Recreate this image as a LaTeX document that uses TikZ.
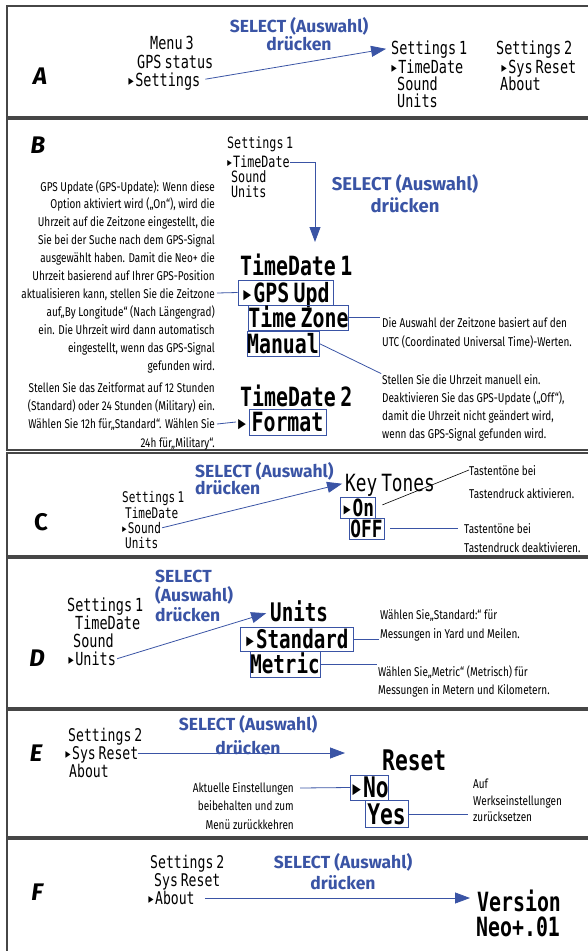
\documentclass[tikz,border=0pt]{standalone}
\usepackage{fontspec}
\usetikzlibrary{arrows.meta, positioning}

\newfontfamily\lcdfont{DejaVu Sans Mono}[FakeStretch=0.75]
\newfontfamily\notefont{Fira Sans}[FakeStretch=0.78]
\newfontfamily\selfont{Fira Sans}

\definecolor{selblue}{RGB}{58,84,165}
\definecolor{framegray}{RGB}{70,70,70}

\tikzset{
  panel/.style={draw=framegray, line width=1.3pt},
  tag/.style={font=\selfont\bfseries\itshape\fontsize{24}{24}\selectfont, inner sep=0pt},
  lcd/.style={font=\lcdfont\fontsize{#1}{#1}\selectfont, inner sep=0pt,
    text height={0.73*#1pt}, text depth=0pt, anchor=west},
  lcd/.default=18,
  lcdbig/.style={lcd=#1, font=\lcdfont\bfseries\fontsize{#1}{#1}\selectfont},
  lcdbig/.default=26.5,
  lcdbox/.style={draw=selblue, line width=0.7pt, anchor=center},
  sel/.style={font=\selfont\bfseries\fontsize{17.5}{#1}\selectfont, text=selblue,
    align=center, inner sep=0pt},
  sel/.default=20,
  note/.style={font=\notefont\fontsize{12.8}{#1}\selectfont, inner sep=0pt},
  note/.default=18,
  selline/.style={draw=selblue, line width=0.8pt},
  selarrow/.style={selline, -{Triangle[length=15pt, width=11pt]}},
}

\begin{document}
\begin{tikzpicture}[x=1pt, y=-1pt]
  \useasboundingbox (0,0) rectangle (587,951);

  % frames
  \draw[panel] (7,6) rectangle (592,117);
  \draw[panel] (7,119) rectangle (592,450);
  \draw[panel] (7,453) rectangle (592,556);
  \draw[panel] (7,558) rectangle (592,708);
  \draw[panel] (7,710) rectangle (592,837);
  \draw[panel] (7,839) rectangle (592,960);

  % A
  \node[tag] (a-tag) at (40,76) {A};
  \node[lcd=18] (a-m3) at (150,43) {Menu\,3};
  \node[lcd=18] (a-gps) at (137,62) {GPS\,status};
  \node[lcd=18] (a-set) at (127,80) {▸Settings};
  \node[sel=18] (a-sel) at (299,34) {SELECT (Auswahl)\\drücken};
  \node[lcd=18] (a-s1) at (391,48) {Settings\,1};
  \node[lcd=18] (a-td) at (390,67) {▸TimeDate};
  \node[lcd=18] (a-snd) at (397,84) {Sound};
  \node[lcd=18] (a-unt) at (397,101) {Units};
  \node[lcd=18] (a-s2) at (496,48) {Settings\,2};
  \node[lcd=18] (a-sys) at (500,67) {▸Sys\,Reset};
  \node[lcd=18] (a-abt) at (500,84) {About};
  \draw[selarrow, shorten <=5pt, shorten >=5pt] (a-set.east) -- (a-s1.west);

  % B
  \node[tag] (b-tag) at (38,145) {B};
  \node[lcd=15.6] (b-s1) at (227,143) {Settings\,1};
  \node[lcd=15.6] (b-td) at (226,162) {▸TimeDate};
  \node[lcd=15.6] (b-snd) at (231,177) {Sound};
  \node[lcd=15.6] (b-unt) at (231,192) {Units};
  \node[sel=22, font=\selfont\bfseries\fontsize{18.5}{22}\selectfont] (b-sel) at (405,194) {SELECT (Auswahl)\\drücken};
  \coordinate (b-tip) at (315,242);
  \draw[selarrow] (b-td.east) -| (b-tip);

  \node[lcdbig] (b-td1) at (240,266) {TimeDate\,1};
  \node[lcdbig, lcdbox, minimum width=95pt, minimum height=25pt] (b-upd) at (285.5,292.5) {▸GPS\,Upd};
  \node[lcdbig, lcdbox, minimum width=99pt, minimum height=25pt] (b-tz) at (298.5,317.5) {Time\,Zone};
  \node[lcdbig, lcdbox, minimum width=68pt, minimum height=25pt] (b-man) at (283,343.5) {Manual};
  \node[lcdbig] (b-td2) at (240,397) {TimeDate\,2};
  \node[lcdbig] (b-fmk) at (236,422) {▸};
  \node[lcdbig, lcdbox, minimum width=77pt, minimum height=26pt] (b-fmt) at (287.5,422) {Format};

  \node[note=17.9, align=right, anchor=north east] (b-gpsnote) at (215,180)
    {GPS Update (GPS-Update): Wenn diese\\
     Option aktiviert wird („On“), wird die\\
     Uhrzeit auf die Zeitzone eingestellt, die\\
     Sie bei der Suche nach dem GPS-Signal\\
     ausgewählt haben. Damit die Neo+ die\\
     Uhrzeit basierend auf Ihrer GPS-Position\\
     aktualisieren kann, stellen Sie die Zeitzone\\
     auf„By Longitude“ (Nach Längengrad)\\
     ein. Die Uhrzeit wird dann automatisch\\
     eingestellt, wenn das GPS-Signal\\
     gefunden wird.};
  \node[note=18.3, align=right, anchor=north east] (b-fmtnote) at (215,382)
    {Stellen Sie das Zeitformat auf 12 Stunden\\
     (Standard) oder 24 Stunden (Military) ein.\\
     Wählen Sie 12h für„Standard“. Wählen Sie\\
     24h für„Military“.};
  \node[note=19, align=left, anchor=north west] (b-tznote) at (382,317)
    {Die Auswahl der Zeitzone basiert auf den\\
     UTC (Coordinated Universal Time)-Werten.};
  \node[note=18, align=left, anchor=north west] (b-mannote) at (382,374)
    {Stellen Sie die Uhrzeit manuell ein.\\
     Deaktivieren Sie das GPS-Update („Off“),\\
     damit die Uhrzeit nicht geändert wird,\\
     wenn das GPS-Signal gefunden wird.};

  \coordinate (b-gpsend) at (217,293);
  \coordinate (b-fmtend) at (217,424);
  \draw[selline] (b-gpsend) -- (b-upd.west);
  \draw[selline] (b-fmtend) -- (b-fmk.west);
  \draw[selline, shorten >=2pt] (b-tz.east) -- (b-tz.east -| b-tznote.west);
  \draw[selline, shorten >=1pt] (b-man.east) -- (b-mannote.north west);

  % C
  \node[font=\selfont\bfseries\fontsize{24}{24}\selectfont, inner sep=0pt] (c-tag) at (41,522) {C};
  \node[sel=17, align=left, anchor=west] (c-sel) at (195,478.5) {SELECT (Auswahl)\\drücken};
  \node[lcd=14.7] (c-s1) at (122,497) {Settings\,1};
  \node[lcd=14.7] (c-td) at (125,513) {TimeDate};
  \node[lcd=14.7] (c-snd) at (121,528) {▸Sound};
  \node[lcd=14.7] (c-unt) at (125,543) {Units};
  \node[lcd=23.7] (c-kt) at (345,483) {Key\,Tones};
  \node[lcdbig=23.7, lcdbox, minimum width=35pt, minimum height=21pt] (c-on) at (358,507.5) {▸On};
  \node[lcdbig=23.7, lcdbox, minimum width=35pt, minimum height=21pt] (c-off) at (366.5,528.5) {OFF};
  \draw[selarrow, shorten <=1pt, shorten >=3pt] (c-snd.east) -- (c-kt.west);

  \node[note=23, align=left, anchor=north west] (c-onnote) at (469,465)
    {Tastentöne bei\\Tastendruck aktivieren.};
  \node[note=19, align=left, anchor=north west] (c-offnote) at (464,523)
    {Tastentöne bei\\Tastendruck deaktivieren.};
  \draw[line width=0.6pt, shorten <=7pt] (c-on.east) -- ([yshift=-5pt]c-onnote.north west);
  \draw[selline, shorten <=6pt, shorten >=6pt] (c-off.east) -- (c-off.east -| c-offnote.west);

  % D
  \node[tag] (d-tag) at (37,658) {D};
  \node[sel=19.5, align=left, anchor=west] (d-sel) at (155,595.5) {SELECT\\(Auswahl)\\drücken};
  \node[lcd=18] (d-s1) at (67,605) {Settings\,1};
  \node[lcd=18] (d-td) at (75,623) {TimeDate};
  \node[lcd=18] (d-snd) at (73,641) {Sound};
  \node[lcd=18] (d-unt) at (67,659) {▸Units};
  \node[lcdbig=25.6] (d-units) at (270,612) {Units};
  \node[lcdbig=25.6, lcdbox, minimum width=113pt, minimum height=24pt] (d-std) at (296.5,639) {▸Standard};
  \node[lcdbig=25.6, lcdbox, minimum width=70pt, minimum height=26pt] (d-met) at (285,664) {Metric};
  \draw[selarrow, shorten <=1pt, shorten >=4pt] (d-unt.east) -- (d-units.west);

  \node[note=19, align=left, anchor=north west] (d-stdnote) at (380,609)
    {Wählen Sie„Standard:“ für\\Messungen in Yard und Meilen.};
  \node[note=18, align=left, anchor=north west] (d-metnote) at (378,665)
    {Wählen Sie„Metric“ (Metrisch) für\\Messungen in Metern und Kilometern.};
  \draw[selline, shorten >=1pt] (d-std.east) -- (d-std.east -| d-stdnote.west);
  \draw[selline, shorten >=1pt] (d-met.east) -- (d-met.east -| d-metnote.west);

  % E
  \node[tag] (e-tag) at (36,753) {E};
  \node[lcd=17.5] (e-s2) at (68,735) {Settings\,2};
  \node[lcd=17.5] (e-sys) at (64,753) {▸Sys\,Reset};
  \node[lcd=17.5] (e-abt) at (69,771) {About};
  \node[sel=24] (e-sel) at (248,735) {SELECT (Auswahl)\\drücken};
  \node[lcdbig=28.4] (e-reset) at (382,760) {Reset};
  \node[lcdbig=28.4, lcdbox, minimum width=33pt, minimum height=25pt] (e-no) at (369.5,787.5) {▸No};
  \node[lcdbig=28.4, lcdbox, minimum width=43pt, minimum height=27pt] (e-yes) at (386.5,814) {Yes};
  \coordinate (e-tip) at (345,753);
  \draw[selarrow] (e-sys.east) -- (e-tip);

  \node[note=18.5, align=right, anchor=north east] (e-nonote) at (294,782)
    {Aktuelle Einstellungen\\beibehalten und zum\\Menü zurückkehren};
  \node[note=16.5, align=left, anchor=north west] (e-yesnote) at (473,779)
    {Auf\\Werkseinstellungen\\zurücksetzen};
  \draw[selline] ([xshift=6pt, yshift=-6pt]e-nonote.north east) -- (e-no.west);
  \draw[selline, shorten >=5pt] (e-yes.east) -- (e-yes.east -| e-yesnote.west);

  % F
  \node[tag] (f-tag) at (37,892) {F};
  \node[lcd=17.5] (f-s2) at (150,862) {Settings\,2};
  \node[lcd=17.5] (f-sys) at (154,880) {Sys\,Reset};
  \node[lcd=17.5] (f-abt) at (147,898) {▸About};
  \node[sel=21] (f-sel) at (343,871.5) {SELECT (Auswahl)\\drücken};
  \node[lcdbig] (f-ver) at (477,902) {Version};
  \node[lcdbig] (f-neo) at (476,927) {Neo+.01};
  \draw[selarrow, shorten <=10pt, shorten >=7pt] (f-abt.east) -- (f-abt.east -| f-ver.west);

\end{tikzpicture}
\end{document}
